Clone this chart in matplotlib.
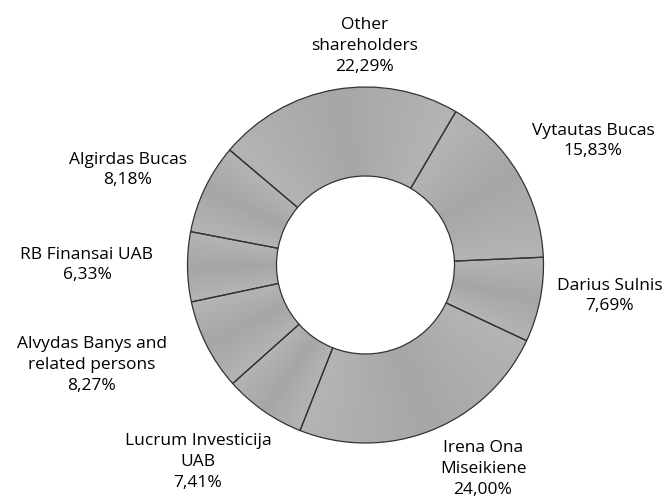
import numpy as np
import matplotlib
matplotlib.use('Agg')
import matplotlib.pyplot as plt

# shareholders, clockwise from the top-right
names = ['Vytautas Bucas', 'Darius Sulnis', 'Irena Ona\nMiseikiene',
         'Lucrum Investicija\nUAB', 'Alvydas Banys and\nrelated persons',
         'RB Finansai UAB', 'Algirdas Bucas', 'Other\nshareholders']
shares = [15.83, 7.69, 24.00, 7.41, 8.27, 6.33, 8.18, 22.29]
share_labels = ['15,83%', '7,69%', '24,00%', '7,41%', '8,27%', '6,33%', '8,18%', '22,29%']

plt.rcParams['font.family'] = ['Open Sans', 'DejaVu Sans']

W, H = 672, 501
fig = plt.figure(figsize=(W / 100, H / 100), dpi=100)
ax = fig.add_axes([0, 0, 1, 1])

cx, cy, R = 365.5, H - 265, 178
wedges, _ = ax.pie(shares, startangle=59.5, counterclock=False,
                   center=(cx, cy), radius=R, frame=True,
                   colors=['#aaaaaa'] * len(shares),
                   wedgeprops=dict(width=R * 0.5, edgecolor='#333333', linewidth=0.9))
ax.set_xlim(0, W)
ax.set_ylim(0, H)
ax.set_aspect('equal')
ax.axis('off')

# subtle angular shading inside each wedge
xx, yy = np.meshgrid(np.linspace(cx - R, cx + R, 400), np.linspace(cy - R, cy + R, 400))
ang = np.degrees(np.arctan2(yy - cy, xx - cx))
for w in wedges:
    mid = (w.theta1 + w.theta2) / 2
    half = (w.theta2 - w.theta1) / 2
    d = (ang - mid + 180) % 360 - 180
    t = np.clip(np.abs(d) / half, 0, 1)
    shade = 0.65 + 0.055 * t
    img = ax.imshow(shade, cmap='gray', vmin=0, vmax=1, origin='lower',
                    extent=(cx - R, cx + R, cy - R, cy + R), zorder=w.get_zorder() - 0.1,
                    interpolation='bilinear')
    img.set_clip_path(w)
    w.set_facecolor('none')

# label centres in pixels (x, y from top)
label_pos = [(593, 141), (610, 296), (483, 469), (198, 462),
             (92, 365), (87, 265), (128, 170), (365, 46)]
for name, lab, (lx, ly) in zip(names, share_labels, label_pos):
    ax.text(lx, H - ly, name + '\n' + lab, ha='center', va='center',
            fontsize=12.5, color='black', linespacing=1.4)

fig.savefig('out.png', dpi=100)
